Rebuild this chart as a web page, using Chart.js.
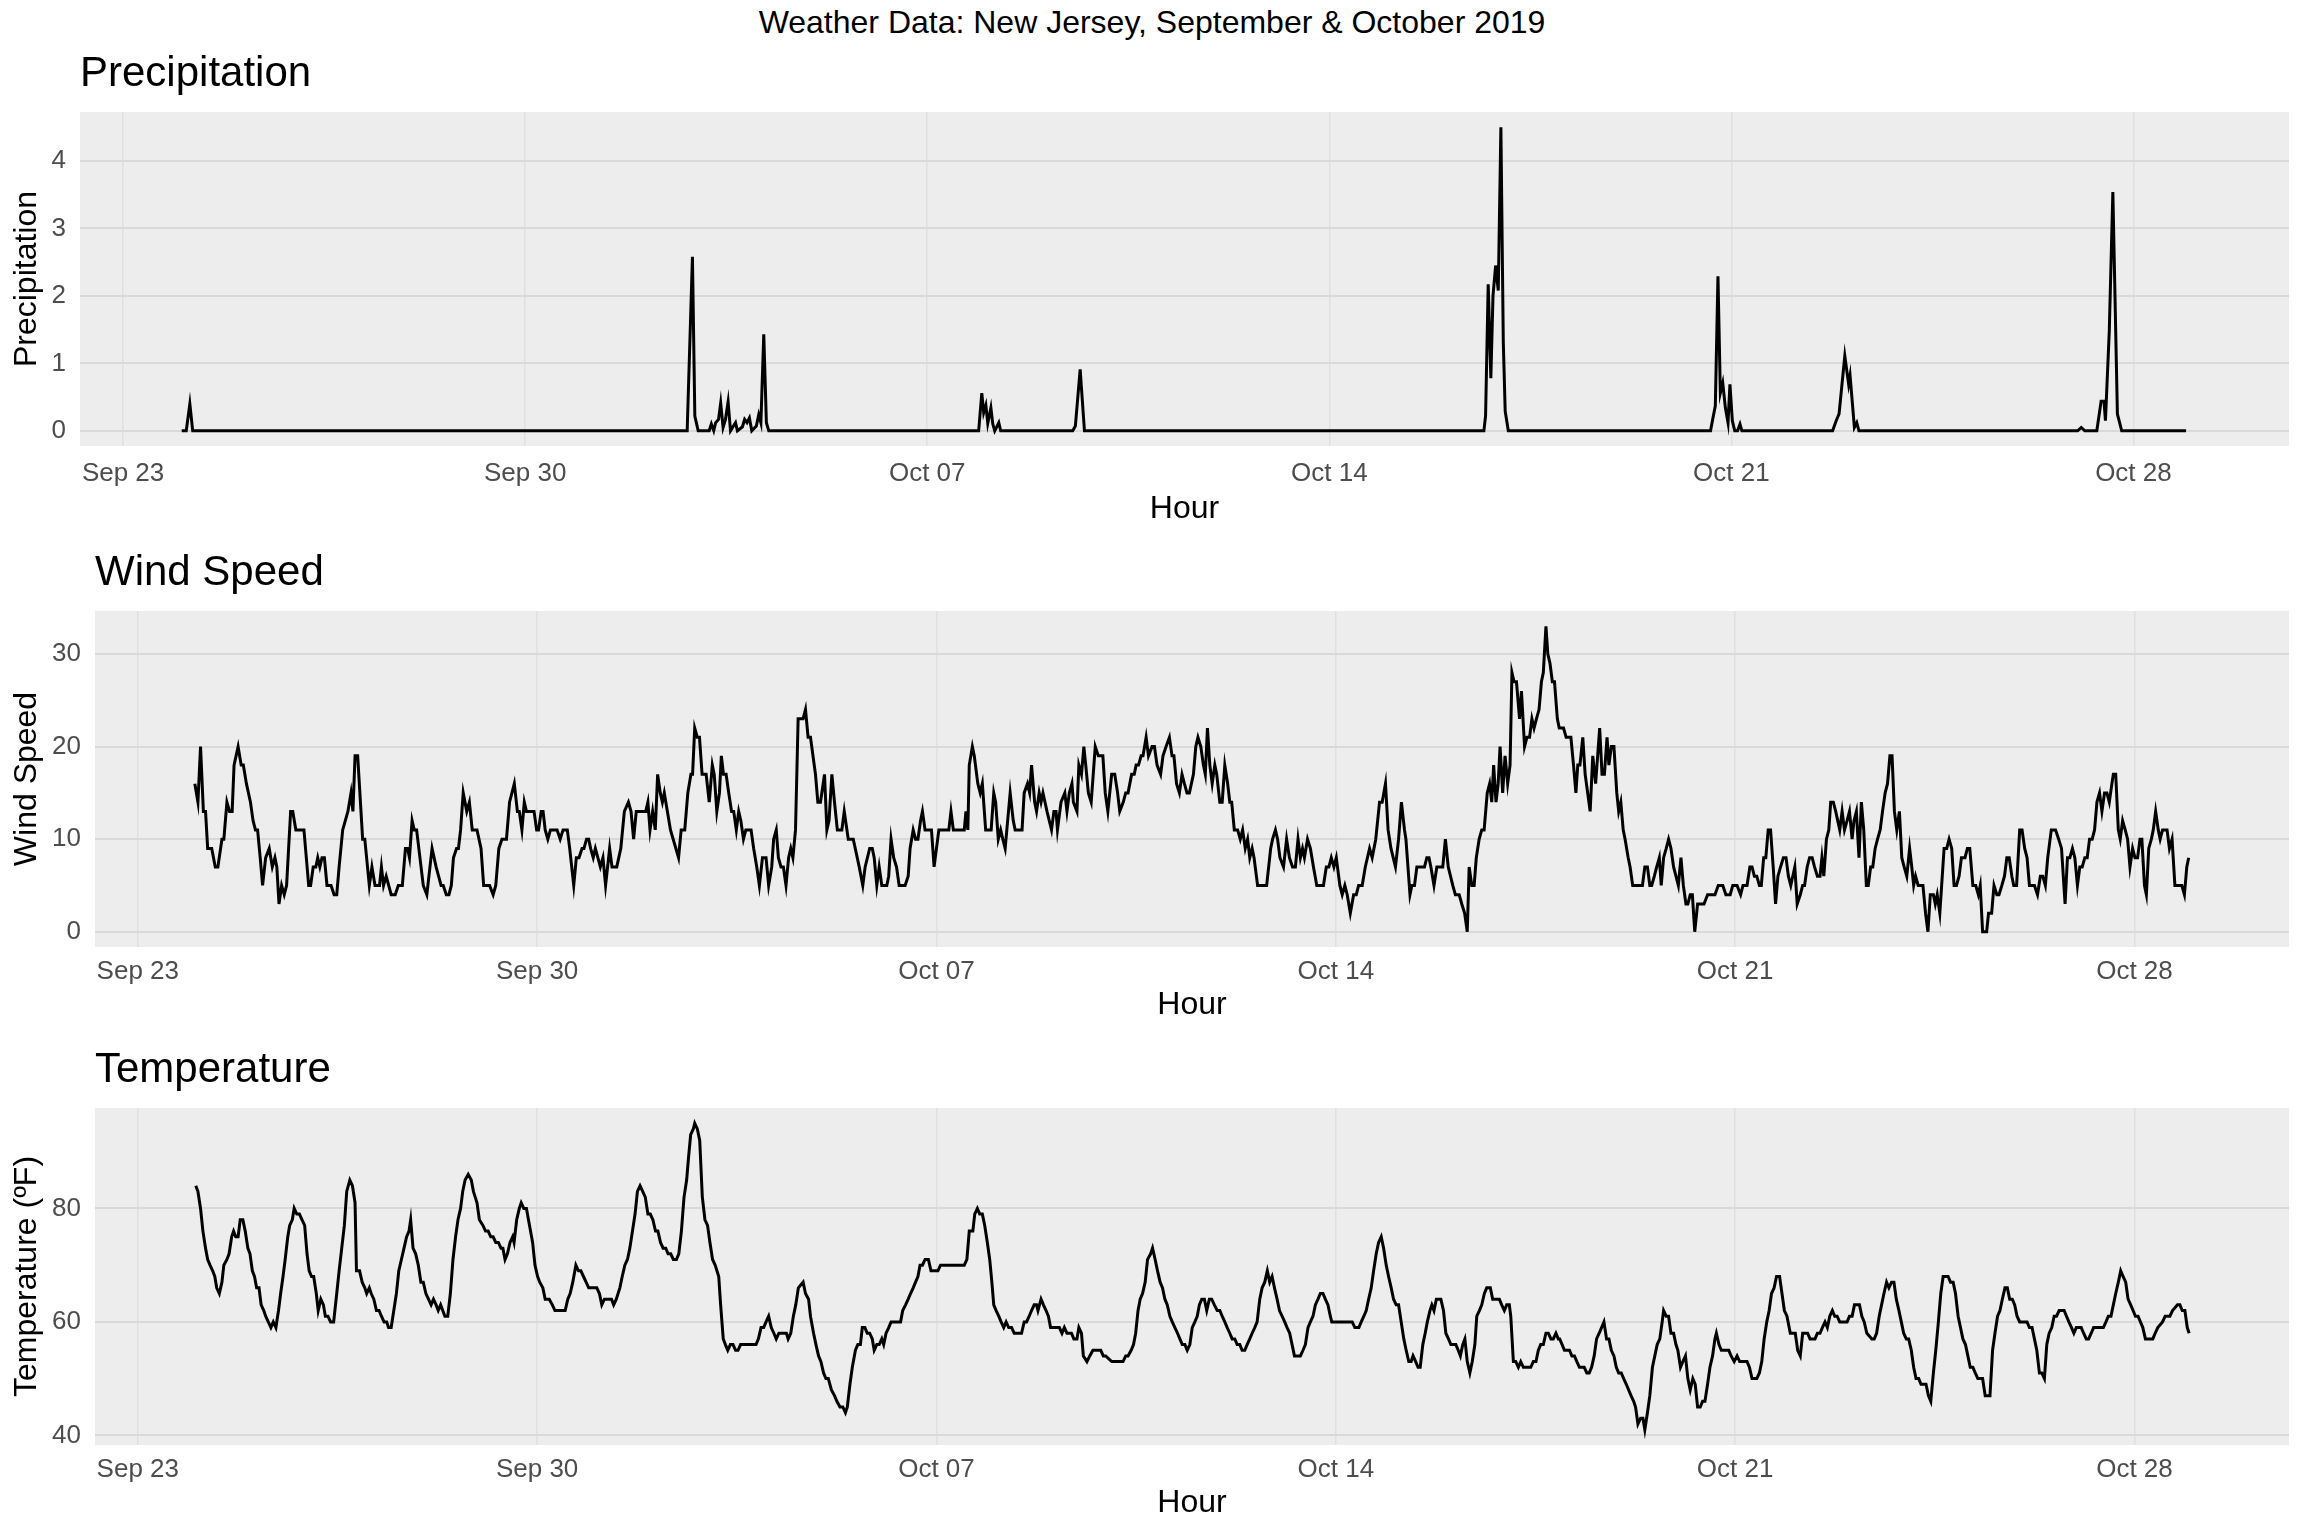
<!DOCTYPE html>
<html>
<head>
<meta charset="utf-8">
<title>Weather Data: New Jersey, September & October 2019</title>
<script src="https://cdn.jsdelivr.net/npm/chart.js@4.4.1/dist/chart.umd.min.js"></script>
<style>
  html, body { margin: 0; padding: 0; background: #fff; }
  body { width: 2304px; height: 1536px; position: relative; overflow: hidden; font-family: "Liberation Sans", Arial, sans-serif; }
  #title { position: absolute; left: 0; top: 0; width: 2304px; text-align: center; font-size: 32px; line-height: 44px; color: #000; }
  .panel { position: absolute; left: 0; width: 2304px; }
</style>
</head>
<body>
<div id="title">Weather Data: New Jersey, September &amp; October 2019</div>
<div class="panel" style="top:44px;height:486px"><canvas id="precipChart"></canvas></div>
<div class="panel" style="top:543px;height:488px"><canvas id="windChart"></canvas></div>
<div class="panel" style="top:1040px;height:489px"><canvas id="tempChart"></canvas></div>
<script>
// x is hours since Sep 23 00:00
const tickHours = [0, 168, 336, 504, 672, 840];
const tickLabels = ['Sep 23', 'Sep 30', 'Oct 07', 'Oct 14', 'Oct 21', 'Oct 28'];

// [hour, inches]
const precipitation = [
  [24.5,0],[26.4,0],[27.9,0.4],[29.1,0],
  [235.7,0],[237.9,2.58],[238.9,0.22],[240.3,0],[244.9,0],[245.8,0.1],[246.8,0],[247.6,0.12],[248.8,0.17],[249.7,0.41],
  [250.7,0.05],[251.7,0.17],[252.8,0.43],[253.8,0],[255.9,0.12],[256.7,0],[258.8,0.06],[259.7,0.17],[260.7,0.12],
  [261.7,0.19],[262.7,0],[264.6,0.07],[265.6,0.24],[266.5,0.12],[267.7,1.43],[268.8,0.12],[269.8,0],
  [357.5,0],[358.8,0.56],[359.6,0.27],[360.5,0.38],[361.3,0.11],[362.6,0.34],[363.4,0.1],[364.2,0],[365.9,0.12],[366.7,0],
  [396.8,0],[397.9,0.07],[399.9,0.91],[401.7,0],
  [568.6,0],[569.3,0.22],[570.4,2.17],[571.5,0.78],[572.4,2.0],[573.5,2.45],[574.6,2.08],[575.7,4.5],[576.7,1.32],[577.5,0.29],[578.8,0],
  [663.3,0],[664.2,0.17],[665.3,0.37],[666.4,2.29],[667.4,0.56],[668.4,0.71],[669.5,0.34],[670.6,0.12],[671.4,0.69],
  [672.4,0.15],[673.4,0],[674.6,0],[675.6,0.1],[676.4,0],
  [714.3,0],[715.8,0.15],[717.0,0.25],[719.4,1.11],[721.0,0.69],[721.6,0.82],[723.4,0.05],[724.4,0.12],[725.3,0],
  [816.7,0],[818.2,0.05],[819.7,0],[824.7,0],[826.5,0.44],[827.7,0.44],[828.3,0.15],[829.9,1.47],[831.4,3.54],[833.3,0.25],[835.1,0],[862,0]
];

// [hour, mph]
const windSpeed = [
  [24,16],[25.3,14],[26.4,20],[27.6,13],[28.5,13],[29.4,9],[31.1,9],[32.6,7],[33.7,7],[35.4,10],[36.2,10],[37.5,14],[38.6,13],
  [39.7,13],[40.5,18],[42.2,20],[43.5,18],[44.4,18],[45.7,16],[47.4,14],[48.5,12],[49.5,11],[50.4,11],[51.5,8],[52.5,5],
  [53.8,8],[55.3,9],[56.6,7],[57.7,8],[58.5,7],[59.4,3],[60.5,5],[61.6,4],[62.6,5],[64.3,13],[65.2,13],[66.5,11],[69.9,11],
  [71.9,5],[72.7,5],[73.8,7],[74.9,7],[75.7,8],[76.6,7],[77.5,8],[78.5,8],[79.6,5],[81.3,5],[82.6,4],[83.7,4],[84.7,7],
  [86.2,11],[88.4,13],[89.7,15],[90.5,13],[91.4,19],[92.5,19],[94.6,10],[95.5,10],[97.4,5],[98.5,7],[99.8,5],[101.7,5],
  [102.5,7],[103.4,5],[104.5,6],[106.6,4],[108.3,4],[109.6,5],[111.3,5],[112.6,9],[113.5,9],[114.3,8],[115.4,12],[116.3,11],
  [117.3,11],[120.1,5],[121.6,4],[123.8,9],[125.5,7],[127.6,5],[128.5,5],[129.8,4],[130.9,4],[131.9,5],[132.8,8],[134.1,9],
  [134.9,9],[135.8,11],[136.9,15],[138.4,13],[139.5,14],[140.7,11],[142.7,11],[144.4,9],[145.5,5],[148,5],[149.5,4],
  [150.6,5],[151.9,9],[153.2,10],[155.1,10],[156.4,14],[158.4,16],[159.7,13],[160.5,13],[161.6,11],[162.6,14],[163.5,13],
  [166.7,13],[167.8,11],[168.6,11],[169.7,13],[170.5,13],[171.4,11],[172.5,10],[173.6,11],[176.4,11],[177.7,10],[178.9,11],
  [180.7,11],[181.7,9],[183.4,5],[184.5,8],[185.6,8],[186.9,9],[187.7,9],[188.8,10],[189.7,10],[190.5,9],[191.6,8],[192.5,9],
  [194.6,7],[195.7,8],[196.8,5],[198.5,9],[199.5,7],[201.5,7],[203.2,9],[204.7,13],[206.4,14],[207.5,13],[208.6,10],
  [209.7,13],[213.7,13],[214.6,14],[215.5,11],[216.6,13],[217.7,11],[218.7,17],[219.8,15],[220.7,14],[221.5,15],[222.8,13],
  [224.1,11],[227.5,8],[228.6,11],[230.1,11],[231.4,15],[232.7,17],[233.4,17],[234.3,22],[235.4,21],[236.3,21],[237.4,17],
  [239.1,17],[240.4,14],[241.7,18],[242.5,17],[243.6,13],[244.7,15],[245.5,19],[246.4,17],[247.5,17],[248.6,15],[249.8,13],
  [250.7,13],[251.8,11],[252.8,13],[253.7,12],[254.8,10],[255.8,11],[258,11],[259.1,9],[260.4,7],[261.5,5],[262.8,8],
  [264.3,8],[265.4,5],[266.7,7],[267.5,10],[268.6,11],[269.5,8],[270.6,7],[271.6,7],[272.7,5],[273.8,8],[274.7,9],[275.6,8],
  [276.7,11],[277.8,23],[279.9,23],[280.9,24],[282.0,21],[283.0,21],[285.1,17],[286.1,14],[287.2,14],[288.9,17],[289.9,11],
  [290.8,12],[292.0,17],[293.1,14],[294.3,11],[296.2,11],[297.2,13],[298.9,10],[301.0,10],[303.5,7],[305.0,5],[306.0,7],
  [307.9,9],[309.0,9],[309.8,8],[310.9,5],[311.9,7],[313.0,5],[315.1,5],[315.9,6],[316.9,10],[318.0,8],[319.2,7],[320.3,5],
  [322.8,5],[324.1,6],[324.9,9],[326.2,11],[327.2,10],[328.2,10],[329.3,12],[330.1,13],[331.2,11],[333.9,11],[335.0,7],
  [337.0,11],[341.2,11],[342.1,13],[343.1,11],[347.7,11],[348.4,13],[349.2,11],[349.8,18],[351.1,20],[351.9,19],[353.4,16],
  [354.4,15],[355.3,16],[356.7,11],[359.0,11],[360.1,15],[360.9,14],[362.0,10],[363.0,11],[363.9,10],[364.9,9],[367.0,15],
  [368.3,12],[369.1,11],[372.0,11],[372.9,15],[374.3,16],[375.2,15],[376.0,18],[377.3,14],[378.1,13],[379.2,15],[380.0,14],
  [380.8,15],[382.5,13],[384.4,11],[385.4,13],[386.3,13],[386.9,11],[388.4,14],[390.0,15],[390.9,13],[391.9,15],[393.0,16],
  [393.6,14],[395.1,13],[395.9,18],[397.0,17],[398.0,20],[398.8,18],[399.9,15],[401.1,14],[402.8,20],[404.1,19],[406.0,19],
  [407.0,15],[408.1,13],[409.7,17],[411.0,17],[412.2,15],[413.1,13],[414.6,14],[415.6,15],[416.6,15],[418.1,17],[419.2,17],
  [420.0,18],[421.0,18],[422.1,19],[422.9,19],[424.2,21],[425.2,19],[426.7,20],[427.7,20],[428.8,18],[430.3,17],[431.3,19],
  [432.6,20],[434.0,21],[435.1,19],[435.9,19],[437.0,16],[438.2,15],[439.3,17],[440.3,16],[441.4,15],[442.4,15],[444.1,17],
  [445.1,20],[446.0,21],[447.2,20],[448.3,18],[449.1,17],[450.0,22],[451.0,18],[452.0,16],[453.1,18],[453.9,17],[455.2,14],
  [456.2,14],[457.3,18],[458.5,16],[459.4,14],[460.2,14],[461.3,11],[462.7,11],[463.8,10],[464.8,11],[465.9,9],[466.9,10],
  [467.8,8],[468.8,9],[469.6,8],[471.1,5],[474.9,5],[476.6,9],[477.4,10],[478.6,11],[479.5,10],[480.5,8],[482.0,7],
  [483.3,10],[484.5,8],[485.8,7],[487.0,7],[488.1,10],[489.1,8],[490.0,9],[490.8,8],[492.1,10],[493.3,9],[494.6,7],[496.0,5],
  [498.8,5],[500.0,7],[501.1,7],[502.1,8],[503.2,7],[504.2,8],[505.7,5],[506.7,4],[507.8,5],[508.8,4],[510.1,2],[511.5,4],
  [512.6,4],[513.6,5],[515.1,5],[516.4,7],[518.2,9],[519.3,8],[520.8,10],[522.4,14],[523.5,14],[524.9,16],[526.0,11],
  [527.2,9],[529.1,7],[530.4,10],[531.6,14],[532.9,11],[533.5,10],[535.2,4],[536.0,5],[537.1,5],[538.1,7],[541.3,7],
  [542.3,8],[543.2,8],[544.0,7],[545.3,5],[546.5,7],[549.0,7],[550.1,10],[551.3,7],[553.2,5],[554.3,4],[555.9,4],[557.0,3],
  [558.2,2],[559.3,0],[560.1,7],[561.2,5],[562.2,5],[563.1,8],[564.3,10],[565.4,11],[566.4,11],[567.7,15],[568.7,16],
  [569.6,14],[570.4,18],[571.4,14],[572.3,16],[573.1,20],[574.2,15],[575.2,19],[576.3,16],[577.3,18],[578.1,28],[579.0,27],
  [580.0,27],[581.3,23],[582.1,26],[583.4,20],[584.4,21],[585.5,21],[586.5,23],[587.4,22],[588.4,23],[589.5,24],[590.5,27],
  [591.3,28],[592.4,33],[593.2,30],[594.1,29],[595.1,27],[596.0,27],[597.2,23],[598.0,22],[599.8,22],[600.9,21],[602.9,21],
  [604.0,18],[605.0,15],[605.8,18],[606.7,18],[607.9,21],[608.9,17],[611.0,13],[612.1,19],[613.3,16],[615.0,22],[616.0,17],
  [617.0,17],[618.1,21],[618.9,18],[619.9,20],[621.0,20],[622.2,15],[623.0,13],[623.9,14],[624.9,11],[625.7,10],[627.0,8],
  [627.8,7],[628.9,5],[633.0,5],[634.0,7],[635.1,7],[636.1,5],[636.9,5],[638.0,6],[639.0,7],[640.1,8],[640.9,5],[641.9,8],
  [643.0,9],[644.0,10],[645.0,9],[646.1,7],[647.1,6],[648.1,5],[649.2,8],[650.2,5],[651.3,3],[652.1,3],[653.1,4],[654.0,4],
  [655.0,0],[656.2,3],[658.9,3],[660.4,4],[663.5,4],[664.9,5],[666.8,5],[668.1,4],[669.9,4],[671.0,5],[672.8,5],[674.3,4],
  [675.3,5],[677.0,5],[678.2,7],[679.1,7],[680.1,6],[681.1,6],[682.2,5],[683.0,5],[684.0,8],[684.9,8],[685.9,11],[686.9,11],
  [688.0,7],[689.0,3],[690.0,6],[691.1,7],[692.3,8],[693.4,8],[694.4,6],[695.4,5],[697.1,7],[698.1,3],[699.4,4],[700.4,5],
  [701.2,5],[702.3,7],[703.3,8],[704.4,8],[705.4,7],[706.6,6],[707.7,6],[708.5,8],[709.3,6],[710.4,10],[711.4,11],[712.2,14],
  [713.3,14],[714.3,13],[716.0,11],[717.0,13],[718.0,11],[719.1,12],[720.1,13],[721.2,10],[722.0,12],[723.0,13],[724.1,8],
  [725.1,14],[726.1,11],[727.2,5],[728.0,5],[729.0,7],[729.9,7],[730.9,9],[731.9,10],[733.0,11],[734.0,13],[735.1,15],
  [736.1,16],[737.1,19],[738.0,19],[739.0,13],[740.0,11],[741.1,13],[742.1,8],[743.1,7],[744.2,6],[745.4,9],[746.3,7],
  [747.1,5],[747.9,6],[749.0,5],[751.0,5],[752.1,2],[753.1,0],[754.1,4],[755.4,4],[756.2,3],[757.0,4],[758.1,2],[759.9,9],
  [761.0,9],[762.0,10],[763.1,9],[764.1,5],[765.1,5],[766.2,6],[767.2,8],[768.7,8],[769.7,9],[770.7,9],[772.0,5],[773.2,5],
  [774.3,4],[775.1,5],[776.1,0],[777.8,0],[778.6,2],[779.9,2],[780.9,5],[782.1,4],[783.0,4],[784.2,5],[785.3,6],[786.3,8],
  [787.3,8],[788.4,6],[789.2,5],[790.4,5],[791.7,11],[792.7,11],[793.8,9],[794.8,8],[795.8,5],[797.9,5],[799.2,4],[800.4,6],
  [801.4,6],[802.5,5],[803.5,8],[805.0,11],[806.8,11],[808.1,10],[809.3,9],[810.8,3],[811.8,8],[812.8,8],[813.9,9],[814.9,8],
  [816.0,5],[817.0,7],[818.0,7],[819.1,8],[820.1,8],[821.1,10],[822.2,10],[823.2,11],[824.2,14],[825.3,15],[826.3,13],
  [827.4,15],[828.4,15],[829.4,14],[830.5,16],[831.1,17],[832.1,17],[833.2,11],[834.0,10],[835.0,12],[836.1,11],[837.1,10],
  [838.1,7],[839.2,9],[840.2,8],[841.3,8],[842.3,10],[843.1,10],[844.2,5],[845.0,4],[846.0,9],[847.1,10],[847.9,11],[848.9,13],
  [850.0,11],[850.8,10],[851.8,11],[853.7,11],[854.7,9],[855.8,10],[857.0,5],[859.9,5],[861.0,4],[862.0,7],[862.8,8]
];

// [hour, degrees F]
const temperature = [
  [24.4,84],[25.3,83],[26.4,80],[27.4,76],[28.5,73],[29.4,71],[30.4,70],[31.5,69],[32.4,68],[33.2,66],[34.3,65],[35.4,67],
  [36.2,70],[37.5,71],[38.4,72],[39.5,75],[40.3,76],[41.2,75],[42.2,75],[43.1,78],[44.2,78],[45.2,76],[46.3,73],[47.2,72],
  [48.2,69],[49.1,68],[50.0,66],[51.0,66],[51.9,63],[53.0,62],[53.8,61],[54.9,60],[56.0,59],[57.0,60],[58.1,59],[59.2,62],
  [60.1,65],[61.1,68],[62.0,71],[63.1,75],[63.9,77],[65.0,78],[65.8,80],[66.9,79],[68.0,79],[69.1,78],[70.2,77],[71.2,72],
  [72.1,69],[73.1,68],[74.0,68],[75.1,65],[75.9,62],[77.0,64],[78.1,63],[78.9,61],[80.0,61],[81.1,60],[82.4,60],[83.7,65],
  [84.7,69],[85.8,73],[86.9,77],[87.9,83],[89.2,85],[90.3,84],[91.4,81],[92.0,69],[93.3,69],[94.4,67],[95.5,66],[96.3,65],
  [97.4,66],[98.2,65],[99.3,64],[100.4,62],[101.5,62],[102.5,61],[103.6,60],[104.7,60],[105.5,59],[106.6,59],[107.7,62],
  [108.8,65],[109.8,69],[110.9,71],[112.0,73],[113.1,75],[114.1,76],[114.8,78],[115.8,73],[116.9,72],[118.0,70],[119.1,67],
  [120.1,67],[121.2,65],[122.3,64],[123.4,63],[124.4,64],[125.5,63],[126.4,62],[127.4,63],[129.2,61],[130.4,61],[131.5,65],
  [132.6,71],[133.7,75],[134.7,78],[135.8,80],[136.7,83],[137.7,85],[139.0,86],[140.3,85],[141.2,83],[142.7,81],[143.7,78],
  [145.2,77],[146.3,76],[147.4,76],[148.5,75],[149.5,75],[150.6,74],[151.7,74],[152.8,73],[153.6,73],[154.5,71],[155.5,72],
  [156.6,74],[157.7,75],[158.3,74],[159.4,78],[160.5,80],[161.3,81],[162.4,80],[163.5,80],[164.8,77],[166.1,74],[167.1,70],
  [168.2,68],[169.1,67],[170.4,66],[171.4,64],[173.1,64],[174.4,63],[175.5,62],[179.8,62],[180.9,64],[181.9,65],[183.0,67],
  [184.3,70],[185.4,69],[186.4,69],[187.5,68],[188.6,67],[189.7,66],[193.1,66],[194.2,65],[195.2,63],[196.3,64],[199.3,64],
  [200.2,63],[201.3,64],[202.8,66],[203.8,68],[204.9,70],[206.0,71],[207.0,73],[208.1,76],[209.2,79],[210.2,83],[211.3,84],
  [212.4,83],[213.5,82],[214.6,79],[215.6,79],[216.7,78],[217.8,76],[218.8,76],[219.9,74],[221.0,73],[222.1,73],[223.1,72],
  [224.2,72],[225.3,71],[226.6,71],[227.6,72],[228.7,76],[229.8,82],[230.9,85],[231.7,89],[232.6,93],[233.7,94],[234.3,95],
  [235.4,94],[236.4,92],[237.5,82],[238.6,78],[239.7,77],[240.7,74],[241.8,71],[242.9,70],[244.4,68],[245.2,63],[246.3,57],
  [247.2,56],[248.2,55],[249.3,56],[250.4,56],[251.5,55],[252.5,55],[253.6,56],[260.1,56],[261.1,57],[262.2,59],[263.3,59],
  [264.3,60],[265.4,61],[266.5,59],[267.6,58],[268.6,57],[269.7,58],[272.9,58],[273.6,57],[274.7,58],[275.8,61],[276.8,63],
  [277.9,66],[279.9,67],[280.9,65],[282.2,64],[283.0,61],[284.3,58],[285.3,56],[286.4,54],[287.4,53],[288.5,51],[289.5,50],
  [290.5,50],[291.8,48],[293.1,47],[294.1,46],[295.4,45],[296.6,45],[297.7,44],[298.5,45],[299.6,49],[300.6,52],[301.9,55],
  [302.9,56],[304.0,56],[304.8,59],[305.9,59],[306.9,58],[307.9,58],[309.0,57],[309.8,55],[310.9,56],[311.9,56],[313.0,57],
  [313.8,56],[314.8,58],[315.9,59],[316.9,60],[318.0,60],[320.9,60],[321.8,62],[323.0,63],[324.1,64],[325.1,65],[326.2,66],
  [327.2,67],[328.2,68],[329.1,70],[330.1,70],[331.2,71],[332.6,71],[333.7,69],[336.6,69],[337.7,70],[347.7,70],[348.8,71],
  [349.8,76],[351.3,76],[352.1,79],[353.2,80],[354.2,79],[355.3,79],[356.3,77],[357.4,74],[358.4,71],[359.3,67],[360.1,63],
  [361.1,62],[362.2,61],[363.2,60],[364.3,59],[365.3,60],[366.4,59],[367.6,59],[368.7,58],[371.8,58],[372.9,60],[373.9,60],
  [375.0,61],[376.0,62],[377.1,63],[378.1,63],[378.7,62],[380.0,64],[381.0,63],[382.1,62],[383.1,61],[384.0,59],[387.7,59],
  [388.8,58],[389.8,59],[390.9,58],[392.8,58],[393.8,57],[395.1,57],[395.9,59],[397.0,58],[397.8,54],[399.3,53],[400.5,54],
  [401.8,55],[404.3,55],[405.1,55],[406.2,54],[407.2,54],[409.7,53],[414.5,53],[415.6,54],[416.6,54],[417.9,55],[418.9,56],
  [419.8,58],[420.8,62],[421.7,64],[422.7,65],[423.8,67],[424.8,71],[426.1,72],[426.9,73],[428.0,71],[429.0,69],[430.1,67],
  [431.1,66],[432.1,64],[433.1,63],[434.2,61],[435.2,60],[436.3,59],[437.4,58],[438.4,57],[439.4,56],[440.5,56],[441.5,55],
  [442.6,56],[443.6,59],[444.7,60],[445.7,61],[446.6,63],[447.6,64],[448.7,64],[449.7,62],[450.8,64],[451.8,64],[452.9,63],
  [454.1,62],[455.2,62],[456.2,61],[457.3,60],[458.3,59],[459.4,58],[460.4,57],[461.5,57],[462.5,56],[463.6,56],[464.6,55],
  [465.7,55],[466.7,56],[467.8,57],[468.8,58],[469.9,59],[470.9,60],[472.0,64],[473.0,66],[474.1,67],[475.2,69],[476.2,67],
  [477.2,68],[478.2,66],[479.3,64],[480.3,62],[481.4,61],[482.5,60],[483.5,59],[484.6,58],[485.6,56],[486.6,54],[487.9,54],
  [489.1,54],[490.2,55],[491.2,56],[492.3,59],[493.3,60],[494.4,61],[495.4,63],[496.5,64],[497.5,65],[498.6,65],[499.6,64],
  [500.7,63],[501.7,61],[502.3,60],[510.9,60],[512.0,59],[513.7,59],[514.7,60],[515.8,61],[516.8,62],[517.8,64],[518.9,66],
  [519.9,69],[521.0,72],[522.0,74],[523.1,75],[524.1,73],[525.2,70],[526.2,68],[527.3,66],[528.3,64],[529.4,63],[530.4,63],
  [531.5,60],[532.6,57],[533.6,55],[534.7,53],[535.7,53],[536.5,54],[537.6,53],[538.6,52],[539.5,52],[540.6,56],[541.6,58],
  [542.5,60],[543.6,62],[544.4,63],[545.3,62],[546.3,64],[548.2,64],[549.3,62],[550.3,58],[551.4,57],[552.4,56],[554.5,56],
  [555.5,55],[556.4,54],[557.4,56],[558.3,57],[559.3,53],[560.4,51],[561.4,53],[562.5,56],[563.3,61],[564.4,62],[565.4,63],
  [566.5,65],[567.5,66],[569.0,66],[570.0,64],[572.8,64],[573.8,63],[574.9,62],[575.9,63],[577.0,63],[577.6,61],[578.7,53],
  [579.7,53],[580.8,52],[581.8,53],[582.9,52],[586.0,52],[587.1,53],[588.2,53],[589.2,55],[590.2,56],[591.3,56],[592.4,58],
  [593.4,58],[594.5,57],[595.5,57],[596.6,58],[597.6,57],[598.2,57],[599.2,56],[600.2,55],[602.3,55],[603.3,54],[604.4,54],
  [605.4,53],[606.5,52],[608.5,52],[609.6,51],[610.6,51],[611.6,52],[612.7,54],[613.7,57],[614.8,58],[615.8,59],[616.8,60],
  [617.9,57],[618.9,57],[619.9,55],[621.0,54],[622.0,52],[623.0,51],[624.1,51],[625.1,50],[626.2,49],[627.2,48],[628.2,47],
  [629.3,46],[630.1,45],[631.1,42],[632.2,43],[633.2,43],[634.0,41],[635.1,44],[636.1,47],[637.2,52],[638.2,54],[639.2,56],
  [640.3,57],[641.3,60],[641.9,62],[643.0,61],[644.0,61],[645.0,58],[646.1,58],[647.1,56],[647.9,55],[649.0,52],[650.0,53],
  [651.1,54],[652.1,50],[653.1,48],[654.2,50],[655.2,49],[656.2,45],[657.3,45],[658.3,46],[659.3,46],[660.4,49],[661.4,52],
  [662.5,54],[663.5,57],[664.1,58],[665.2,56],[666.2,55],[669.3,55],[670.3,54],[671.6,53],[672.8,54],[673.9,53],[677.0,53],
  [678.0,52],[679.1,50],[681.1,50],[682.2,51],[683.2,53],[684.2,57],[685.3,60],[686.3,62],[687.3,65],[688.4,66],[689.4,68],
  [690.7,68],[691.7,65],[692.7,62],[693.8,61],[695.2,58],[697.3,58],[698.3,55],[699.4,54],[700.4,58],[702.5,58],[703.5,57],
  [705.6,57],[706.6,58],[707.7,58],[708.7,59],[709.8,60],[710.8,59],[711.8,61],[712.9,62],[713.9,61],[714.9,61],[716.0,60],
  [719.1,60],[720.1,61],[721.2,61],[722.2,63],[724.3,63],[725.3,61],[726.3,60],[727.4,58],[729.5,57],[730.5,57],[731.5,58],
  [732.6,61],[733.6,63],[734.6,65],[735.7,67],[736.7,66],[737.8,67],[738.8,67],[739.8,64],[740.9,62],[741.9,60],[742.9,58],
  [744.0,57],[745.0,57],[746.1,55],[747.1,52],[748.1,50],[749.2,50],[750.2,49],[752.3,49],[753.3,47],[754.3,46],[755.4,51],
  [756.4,55],[757.5,60],[758.5,65],[759.5,68],[761.6,68],[762.6,67],[763.7,67],[764.7,65],[765.8,61],[766.8,59],[767.8,57],
  [768.9,56],[769.9,54],[770.9,52],[772.0,52],[773.0,51],[774.1,50],[776.1,50],[777.2,47],[779.2,47],[780.3,55],[781.3,58],
  [782.4,61],[783.4,62],[784.4,64],[785.5,66],[786.5,66],[787.5,64],[788.6,64],[789.6,63],[790.6,61],[791.7,60],[794.8,60],
  [795.8,59],[796.9,59],[797.9,57],[798.9,55],[800.0,51],[801.0,51],[802.1,50],[803.1,56],[804.1,58],[805.2,59],[806.2,61],
  [807.2,61],[808.3,62],[810.4,62],[811.4,61],[812.4,60],[813.5,59],[814.5,58],[815.5,59],[817.6,59],[818.6,58],[819.7,57],
  [820.7,57],[821.8,58],[822.8,59],[826.9,59],[828.0,60],[829.0,61],[830.1,61],[831.1,63],[832.1,65],[833.2,67],[834.2,69],
  [835.2,68],[836.3,67],[837.3,64],[838.4,63],[839.4,62],[840.4,61],[841.5,61],[842.5,60],[843.5,59],[844.6,57],[847.7,57],
  [848.7,58],[849.8,59],[851.8,60],[852.9,61],[854.9,61],[856.0,62],[858.1,63],[859.1,63],[860.1,62],[861.2,62],[862.2,59],
  [863.0,58]
];

const X_MIN = -18;
const X_MAX = 905;

const panelBackground = {
  id: 'panelBackground',
  beforeDraw(chart) {
    const { ctx, chartArea } = chart;
    ctx.save();
    ctx.fillStyle = '#ededed';
    ctx.fillRect(chartArea.left, chartArea.top, chartArea.right - chartArea.left, chartArea.bottom - chartArea.top);
    ctx.restore();
  }
};

function makePanel(canvasId, cfg) {
  return new Chart(document.getElementById(canvasId), {
    type: 'line',
    data: {
      datasets: [{
        data: cfg.data.map(([x, y]) => ({ x, y })),
        borderColor: '#000',
        borderWidth: 3,
        pointRadius: 0,
        tension: 0,
        fill: false
      }]
    },
    options: {
      responsive: true,
      maintainAspectRatio: false,
      animation: false,
      layout: { padding: { left: 0, right: 15, top: 0, bottom: 0 } },
      plugins: {
        legend: { display: false },
        tooltip: { enabled: false },
        title: {
          display: true,
          text: cfg.title,
          align: 'start',
          fullSize: false,
          color: '#000',
          font: { family: 'Liberation Sans', size: 42, weight: 'normal', lineHeight: 1.2 },
          padding: { top: 4.8, bottom: 12.8 }
        }
      },
      scales: {
        x: {
          type: 'linear',
          min: X_MIN,
          max: X_MAX,
          afterBuildTicks: s => { s.ticks = tickHours.map(v => ({ value: v })); },
          afterFit: s => { s.height = 84; },
          ticks: {
            autoSkip: false,
            maxRotation: 0,
            padding: cfg.tickPad,
            color: '#4d4d4d',
            font: { family: 'Liberation Sans', size: 26 },
            callback: (v, i) => tickLabels[i]
          },
          grid: { color: '#e0e0e0', lineWidth: 1.5, drawTicks: false },
          border: { display: false },
          title: {
            display: true,
            text: 'Hour',
            color: '#000',
            font: { family: 'Liberation Sans', size: 32, lineHeight: 1.2 },
            padding: { top: 0, bottom: cfg.hourPad }
          }
        },
        y: {
          min: cfg.yMin,
          max: cfg.yMax,
          afterBuildTicks: s => { s.ticks = cfg.yTicks.map(v => ({ value: v })); },
          afterFit: s => { s.width = cfg.left; },
          ticks: {
            padding: 14,
            color: '#4d4d4d',
            font: { family: 'Liberation Sans', size: 26 }
          },
          grid: { color: '#d9d9d9', lineWidth: 2, drawTicks: false },
          border: { display: false },
          title: {
            display: true,
            text: cfg.yTitle,
            color: '#000',
            font: { family: 'Liberation Sans', size: 32, lineHeight: 1.2 },
            padding: { top: 7.8, bottom: 0 }
          }
        }
      }
    },
    plugins: [panelBackground]
  });
}

makePanel('precipChart', {
  title: 'Precipitation', yTitle: 'Precipitation', data: precipitation,
  yMin: -0.225, yMax: 4.725, yTicks: [0, 1, 2, 3, 4], left: 80, tickPad: 12.4, hourPad: 1.5
});
makePanel('windChart', {
  title: 'Wind Speed', yTitle: 'Wind Speed', data: windSpeed,
  yMin: -1.65, yMax: 34.65, yTicks: [0, 10, 20, 30], left: 95, tickPad: 9.4, hourPad: 6.8
});
makePanel('tempChart', {
  title: 'Temperature', yTitle: 'Temperature (ºF)', data: temperature,
  yMin: 38.3, yMax: 97.7, yTicks: [40, 60, 80], left: 95, tickPad: 9.4, hourPad: 6.8
});
</script>
</body>
</html>
